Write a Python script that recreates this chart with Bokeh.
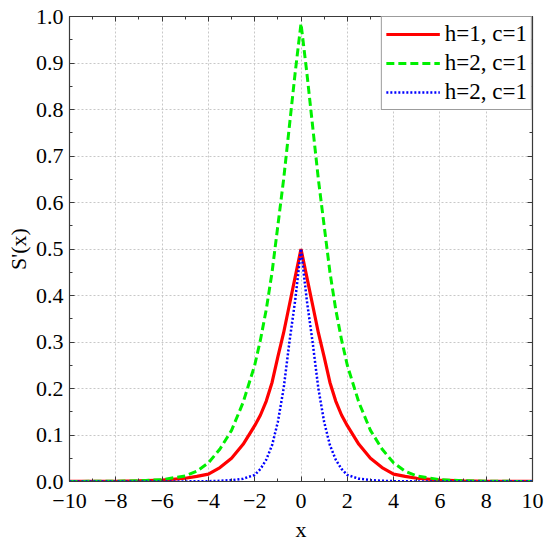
from bokeh.plotting import figure
from bokeh.models import Range1d, LinearAxis, FixedTicker, Legend, LegendItem, PrintfTickFormatter
from bokeh.embed import file_html
from bokeh.resources import INLINE

x_pts = [-10, -8, -7, -6, -5, -4.5, -4, -3.5, -3, -2.5, -2, -1.75, -1.5, -1.25, -1, -0.75, -0.5, -0.25,
         0, 0.25, 0.5, 0.75, 1, 1.25, 1.5, 1.75, 2, 2.5, 3, 3.5, 4, 4.5, 5, 6, 7, 8, 10]

red_h1c1 = [0.0001, 0.0005, 0.0012, 0.003, 0.007, 0.011, 0.016, 0.03, 0.05, 0.08, 0.12, 0.143, 0.173, 0.213, 0.268, 0.32, 0.38, 0.44,
            0.5, 0.44, 0.38, 0.32, 0.268, 0.213, 0.173, 0.143, 0.12, 0.08, 0.05, 0.03, 0.016, 0.011, 0.007, 0.003, 0.0012, 0.0005, 0.0001]

green_h2c1 = [0.0001, 0.0005, 0.0015, 0.004, 0.012, 0.022, 0.04, 0.07, 0.11, 0.17, 0.25, 0.305, 0.37, 0.45, 0.55, 0.65, 0.765, 0.88,
              0.985, 0.88, 0.765, 0.65, 0.55, 0.45, 0.37, 0.305, 0.25, 0.17, 0.11, 0.07, 0.04, 0.022, 0.012, 0.004, 0.0015, 0.0005, 0.0001]

blue_h2c1 = [0.0, 0.0, 0.0, 0.0001, 0.0002, 0.0004, 0.0007, 0.0015, 0.003, 0.006, 0.014, 0.027, 0.047, 0.078, 0.128, 0.2, 0.30, 0.39,
             0.5, 0.39, 0.30, 0.2, 0.128, 0.078, 0.047, 0.027, 0.014, 0.006, 0.003, 0.0015, 0.0007, 0.0004, 0.0002, 0.0001, 0.0, 0.0, 0.0]

labels = ["h=1, c=1", "h=2, c=1", "h=2, c=1"]
x_ticks = [-10, -8, -6, -4, -2, 0, 2, 4, 6, 8, 10]
y_ticks = [0.0, 0.1, 0.2, 0.3, 0.4, 0.5, 0.6, 0.7, 0.8, 0.9, 1.0]

FONT = "Liberation Serif"
AX = "#3a3a3a"
TXT = "#000000"

p = figure(width=550, height=545, output_backend="svg", toolbar_location=None,
           x_range=Range1d(-10, 10), y_range=Range1d(0, 1.0),
           min_border_left=69, min_border_right=18, min_border_top=16, min_border_bottom=64,
           x_axis_label="x", y_axis_label="S'(x)")
p.outline_line_color = AX
p.outline_line_width = 1
p.background_fill_color = "white"
p.border_fill_color = "white"

# grid
for g in (p.xgrid[0], p.ygrid[0]):
    g.grid_line_color = "#c8c8c8"
    g.grid_line_dash = "2 2"
    g.grid_line_width = 1
p.xgrid[0].ticker = FixedTicker(ticks=x_ticks)
p.ygrid[0].ticker = FixedTicker(ticks=y_ticks)

xticker = FixedTicker(ticks=x_ticks, minor_ticks=list(range(-9, 10, 2)))
yticker = FixedTicker(ticks=y_ticks, minor_ticks=[0.05 + 0.1 * i for i in range(10)])

def style_axis(ax, show_labels):
    ax.axis_line_color = AX
    ax.axis_line_width = 1.2
    ax.major_tick_line_color = AX
    ax.minor_tick_line_color = AX
    ax.major_tick_in = 5
    ax.major_tick_out = 0
    ax.minor_tick_in = 3
    ax.minor_tick_out = 0
    ax.major_label_text_font = FONT
    ax.axis_label_text_font = FONT
    ax.axis_label_text_font_style = "normal"
    ax.axis_label_text_color = TXT
    ax.major_label_text_color = TXT
    if show_labels:
        ax.major_label_text_font_size = "22px"
        ax.axis_label_text_font_size = "22px"
    else:
        ax.major_label_text_font_size = "0px"
        ax.major_label_standoff = 0

xa = p.xaxis[0]
xa.ticker = xticker
xa.major_label_overrides = {t: (("\u2212" + str(-t)) if t < 0 else str(t)) for t in x_ticks}
style_axis(xa, True)
xa.major_label_standoff = 12
xa.axis_label_standoff = 6

ya = p.yaxis[0]
ya.ticker = yticker
ya.formatter = PrintfTickFormatter(format="%.1f")
style_axis(ya, True)
ya.major_label_standoff = 6
ya.axis_label_standoff = 2

top_ax = LinearAxis(ticker=xticker)
style_axis(top_ax, False)
p.add_layout(top_ax, "above")
right_ax = LinearAxis(ticker=yticker)
style_axis(right_ax, False)
p.add_layout(right_ax, "right")

r1 = p.line(x_pts, red_h1c1, line_color="#ff0000", line_width=3.2)
r2 = p.line(x_pts, green_h2c1, line_color="#00f000", line_width=3, line_dash="8 4")
r3 = p.line(x_pts, blue_h2c1, line_color="#0000ff", line_width=2.5, line_dash="2 2")

legend = Legend(items=[LegendItem(label=labels[0], renderers=[r1]),
                       LegendItem(label=labels[1], renderers=[r2]),
                       LegendItem(label=labels[2], renderers=[r3])],
                location="top_right", margin=0, padding=4, spacing=3,
                glyph_width=54, glyph_height=22, label_height=22, label_standoff=5,
                label_text_font=FONT, label_text_font_size="23px", label_text_color=TXT,
                border_line_color=AX, border_line_width=1, background_fill_alpha=1.0)
p.add_layout(legend)

open("out.html", "w").write(file_html(p, INLINE))
